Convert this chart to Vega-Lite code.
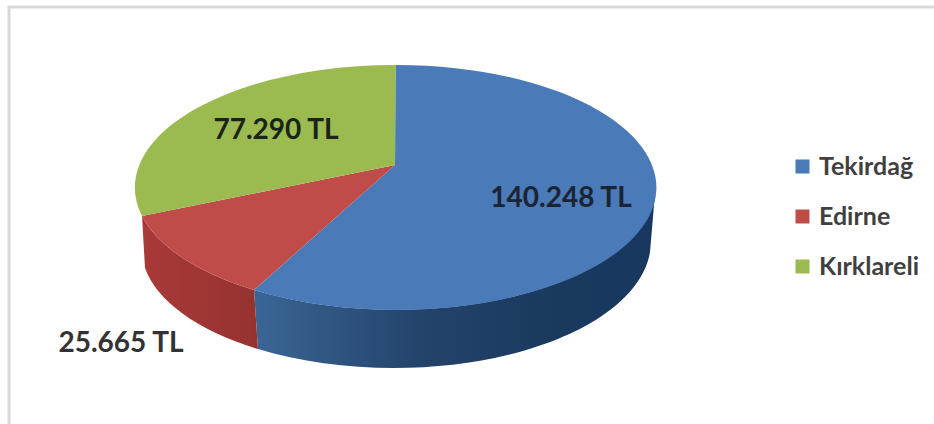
{
  "$schema": "https://vega.github.io/schema/vega-lite/v6.json",
  "width": 940,
  "height": 430,
  "autosize": {"type": "none"},
  "padding": {"left": 9, "top": 7, "right": 0, "bottom": 0},
  "background": "#ffffff",
  "view": {"stroke": "#d8d9db", "strokeWidth": 3},
  "data": {"values": [
    {"il": "Tekirdağ", "tutar": 140248, "etiket": "140.248 TL"},
    {"il": "Edirne", "tutar": 25665, "etiket": "25.665 TL"},
    {"il": "Kırklareli", "tutar": 77290, "etiket": "77.290 TL"}
  ]},
  "layer": [
    {
      "transform": [{"filter": "datum.il === 'Tekirdağ'"}],
      "mark": {"type": "point", "filled": true, "opacity": 1, "size": 4,
        "shape": "M176.5,-34.5 A260,122.5 0 0 1 -225,68 L-221,127 A257,126 0 0 0 171,30 Z",
        "fill": {"gradient": "linear", "x1": 0, "x2": 1, "y1": 0, "y2": 0, "stops": [
          {"offset": 0, "color": "#3a6696"},
          {"offset": 0.2, "color": "#2f5580"},
          {"offset": 0.4, "color": "#24446c"},
          {"offset": 0.7, "color": "#1a3a60"},
          {"offset": 1, "color": "#17375e"}
        ]}}
    },
    {
      "transform": [{"filter": "datum.il === 'Edirne'"}],
      "mark": {"type": "point", "filled": true, "opacity": 1, "size": 4,
        "shape": "M-225,68 A260,122.5 0 0 1 -337,-6 L-334,46 A257,120 0 0 0 -221,127 Z",
        "fill": {"gradient": "linear", "x1": 0, "x2": 1, "y1": 0, "y2": 0, "stops": [
          {"offset": 0, "color": "#a83a38"},
          {"offset": 1, "color": "#953230"}
        ]}}
    },
    {
      "transform": [{"filter": "datum.il === 'Tekirdağ'"}],
      "mark": {"type": "point", "filled": true, "opacity": 1, "size": 4, "fill": "#4a7ab8",
        "shape": "M-84,-57 L-83.5,-157 A260,122.5 0 1 1 -225,68 Z"}
    },
    {
      "transform": [{"filter": "datum.il === 'Edirne'"}],
      "mark": {"type": "point", "filled": true, "opacity": 1, "size": 4, "fill": "#c04c4a",
        "shape": "M-84,-57 L-225,68 A260,122.5 0 0 1 -337,-6 Z"}
    },
    {
      "transform": [{"filter": "datum.il === 'Kırklareli'"}],
      "mark": {"type": "point", "filled": true, "opacity": 1, "size": 4, "fill": "#9bbb50",
        "shape": "M-84,-57 L-337,-6 A260,122.5 0 0 1 -83.5,-157 Z"}
    },
    {
      "mark": {"type": "point", "filled": true, "opacity": 0},
      "encoding": {
        "color": {
          "field": "il", "type": "nominal",
          "scale": {"domain": ["Tekirdağ", "Edirne", "Kırklareli"], "range": ["#4a7ab8", "#c04c4a", "#9bbb50"]},
          "legend": {
            "title": null, "orient": "none", "legendX": 781, "legendY": 147,
            "symbolType": "square", "symbolSize": 196, "symbolOpacity": 1, "symbolStrokeWidth": 0,
            "labelFont": "Lato", "labelFontWeight": "bold", "labelFontSize": 25, "labelColor": "#404040",
            "labelOffset": 4, "rowPadding": 24
          }
        }
      }
    },
    {
      "transform": [{"filter": "datum.il === 'Tekirdağ'"}],
      "mark": {"type": "text", "dx": 82, "dy": -23, "font": "Lato", "fontWeight": "bold", "fontSize": 28, "color": "#1a2433"},
      "encoding": {"text": {"field": "etiket"}}
    },
    {
      "transform": [{"filter": "datum.il === 'Edirne'"}],
      "mark": {"type": "text", "dx": -358, "dy": 122, "font": "Lato", "fontWeight": "bold", "fontSize": 28, "color": "#333333"},
      "encoding": {"text": {"field": "etiket"}}
    },
    {
      "transform": [{"filter": "datum.il === 'Kırklareli'"}],
      "mark": {"type": "text", "dx": -203, "dy": -91, "font": "Lato", "fontWeight": "bold", "fontSize": 28, "color": "#1a2416"},
      "encoding": {"text": {"field": "etiket"}}
    }
  ]
}
